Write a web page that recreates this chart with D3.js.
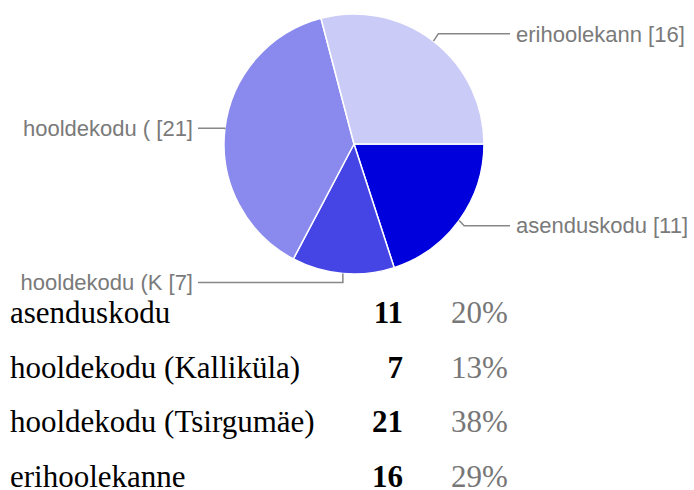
<!DOCTYPE html>
<html>
<head>
<meta charset="utf-8">
<style>
    body { margin: 0; background: #fff; }
    path.slice { stroke: #fff; stroke-width: 1.5px; }
    path.leader { fill: none; stroke: #888; stroke-width: 1.5px; }
    text.label { font-family: "Liberation Sans", Arial, sans-serif; font-size: 22px; fill: #7a7a7a; }
    text.name { font-family: "Liberation Serif", "Times New Roman", serif; font-size: 31px; fill: #000; }
    text.count { font-family: "Liberation Serif", "Times New Roman", serif; font-size: 31px; font-weight: bold; fill: #000; }
    text.pct { font-family: "Liberation Serif", "Times New Roman", serif; font-size: 31px; fill: #777; }
</style>
</head>
<body>
<script src="https://cdn.jsdelivr.net/npm/d3@7"></script>
<script>

    var categories = ["asenduskodu", "hooldekodu (Kalliküla)", "hooldekodu (Tsirgumäe)", "erihoolekanne"];
    var shortLabels = ["asenduskodu", "hooldekodu (K", "hooldekodu (", "erihoolekann"];
    var values = [11, 7, 21, 16];
    var colors = ["#0000dc", "#4545e5", "#8989ee", "#cbcbf7"];

    var width = 694, height = 490;
    var cx = 354, cy = 144, r = 130;

    var svg = d3.select("body").append("svg")
        .attr("width", width)
        .attr("height", height);

    var total = d3.sum(values);
    var data = values.map(function (v, i) {
        return { name: categories[i], short: shortLabels[i], value: v, color: colors[i] };
    });

    // starts at 3 o'clock, clockwise, keep data order
    var pie = d3.pie()
        .value(function (d) { return d.value; })
        .sort(null)
        .startAngle(Math.PI / 2)
        .endAngle(Math.PI / 2 + 2 * Math.PI);

    var arc = d3.arc().innerRadius(0).outerRadius(r);
    var arcs = pie(data);

    var g = svg.append("g").attr("transform", "translate(" + cx + "," + cy + ")");

    g.selectAll("path.slice")
        .data(arcs)
        .enter()
        .append("path")
        .attr("class", "slice")
        .attr("d", arc)
        .style("fill", function (d) { return d.data.color; });

    // leader lines + labels
    arcs.forEach(function (d) {
        var mid = (d.startAngle + d.endAngle) / 2;
        var ax = Math.sin(mid) * r;
        var ay = -Math.cos(mid) * r;
        var right = ax > 0;
        var ly = ay * 1.07;
        var ex = right ? ax + 5 : ax;
        var endX = right ? r + 26 : -(r + 26);

        g.append("path")
            .attr("class", "leader")
            .attr("d", d3.line()([[ax, ay], [ex, ly], [endX, ly]]));

        g.append("text")
            .attr("class", "label")
            .attr("x", right ? endX + 6 : endX - 5)
            .attr("y", ly)
            .attr("dy", "0.35em")
            .attr("text-anchor", right ? "start" : "end")
            .text(d.data.short + " [" + d.data.value + "]");
    });

    // summary table below
    var row = d3.scaleLinear().domain([0, 3]).range([323, 487]);

    var rows = svg.selectAll("g.row")
        .data(data)
        .enter()
        .append("g")
        .attr("class", "row")
        .attr("transform", function (d, i) { return "translate(0," + row(i) + ")"; });

    rows.append("text")
        .attr("class", "name")
        .attr("x", 10)
        .text(function (d) { return d.name; });

    rows.append("text")
        .attr("class", "count")
        .attr("x", 403)
        .attr("text-anchor", "end")
        .text(function (d) { return d.value; });

    rows.append("text")
        .attr("class", "pct")
        .attr("x", 451)
        .text(function (d) { return Math.round(d.value / total * 100) + "%"; });

</script>
</body>
</html>
